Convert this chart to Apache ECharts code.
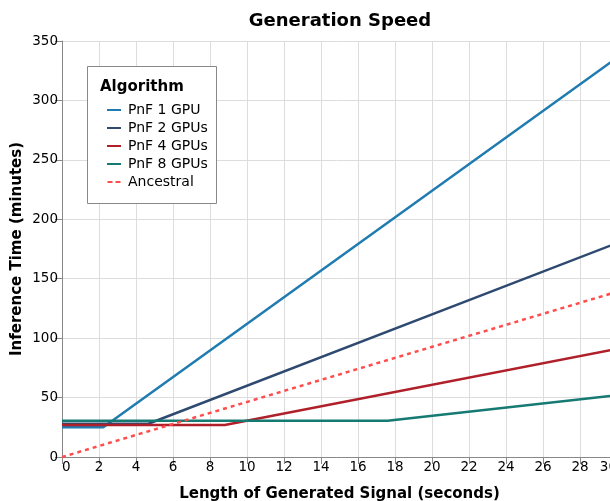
<!DOCTYPE html>
<html>
<head>
<meta charset="utf-8">
<script src="https://cdn.jsdelivr.net/npm/echarts@6/dist/echarts.min.js"></script>
<style>html,body{margin:0;padding:0;background:#fff}#c{width:610px;height:501px}</style>
</head>
<body>
<div id="c"></div>
<script>
var seriesNames = ['PnF 1 GPU', 'PnF 2 GPUs', 'PnF 4 GPUs', 'PnF 8 GPUs', 'Ancestral'];
var pnf1X = [0, 2.23, 30], pnf1Y = [25, 25, 336];
var pnf2X = [0, 4.67, 30], pnf2Y = [28, 28, 180];
var pnf4X = [0, 8.8, 30], pnf4Y = [27, 27, 91];
var pnf8X = [0, 17.6, 30], pnf8Y = [30.5, 30.5, 52];
var ancX = [0, 30], ancY = [0, 139];
var colors = ['#1f7bb0', '#2f4a70', '#b0202a', '#157a72', '#ff4d4d'];

function zip(xs, ys) { return xs.map(function (x, i) { return [x, ys[i]]; }); }
var allData = [zip(pnf1X, pnf1Y), zip(pnf2X, pnf2Y), zip(pnf4X, pnf4Y), zip(pnf8X, pnf8Y), zip(ancX, ancY)];

var FONT = 'DejaVu Sans';
var SOLID_ICON = 'path://M0,0H14V2H0Z';
var DASH_ICON = 'path://M0,0H5V2H0Z M8,0H13V2H8Z';
var chart = echarts.init(document.getElementById('c'), null, {renderer: 'canvas'});
chart.setOption({
  animation: false,
  textStyle: {fontFamily: FONT},
  title: {
    text: 'Generation Speed', left: 335, top: 7, textAlign: 'center',
    textStyle: {fontFamily: FONT, fontWeight: 'bold', fontSize: 18, color: '#000'}
  },
  grid: {left: 62, top: 41, width: 555, height: 416, containLabel: false, outerBoundsMode: 'none'},
  xAxis: {
    type: 'value', min: 0, max: 30, interval: 2,
    name: 'Length of Generated Signal (seconds)', nameLocation: 'middle', nameGap: 30,
    nameTextStyle: {fontFamily: FONT, fontWeight: 'bold', fontSize: 15, color: '#000'},
    axisLine: {show: true, onZero: false, lineStyle: {color: '#888', width: 1}},
    axisTick: {show: true, length: 7, lineStyle: {color: '#888'}},
    axisLabel: {fontFamily: FONT, fontSize: 13.5, color: '#000', margin: 3, alignMinLabel: 'left', alignMaxLabel: 'right'},
    splitLine: {show: true, lineStyle: {color: '#ddd', width: 1}}
  },
  yAxis: {
    type: 'value', min: 0, max: 350, interval: 50,
    name: 'Inference Time (minutes)', nameLocation: 'middle', nameGap: 37, nameRotate: 90,
    nameMoveOverlap: false,
    nameTextStyle: {fontFamily: FONT, fontWeight: 'bold', fontSize: 15, color: '#000'},
    axisLine: {show: true, lineStyle: {color: '#888', width: 1}},
    axisTick: {show: true, length: 7, lineStyle: {color: '#888'}},
    axisLabel: {fontFamily: FONT, fontSize: 13.5, color: '#000', margin: 4},
    splitLine: {show: true, lineStyle: {color: '#ddd', width: 1}}
  },
  legend: {
    orient: 'vertical', left: 102, top: 97, itemGap: 2, itemWidth: 14, itemHeight: 2, z: 10,
    data: seriesNames.map(function (n, i) { return {name: n, icon: i === 4 ? DASH_ICON : SOLID_ICON}; }),
    textStyle: {fontFamily: FONT, fontSize: 14, lineHeight: 16, color: '#000', padding: [0, 0, 0, 2]}
  },
  graphic: [
    {type: 'rect', left: 87, top: 66, shape: {width: 129, height: 137}, z: 1,
     style: {fill: '#fff', stroke: '#888', lineWidth: 1}},
    {type: 'text', left: 100, top: 80, z: 10,
     style: {text: 'Algorithm', font: 'bold 15px "DejaVu Sans"', fill: '#000'}}
  ],
  series: allData.map(function (d, i) {
    return {
      name: seriesNames[i], type: 'line', data: d, symbol: 'none', showSymbol: false,
      z: 2 + i,
      color: colors[i],
      lineStyle: {color: colors[i], width: 2.5, type: i === 4 ? [4, 4] : 'solid'},
      emphasis: {disabled: true}
    };
  })
});
</script>
</body>
</html>
